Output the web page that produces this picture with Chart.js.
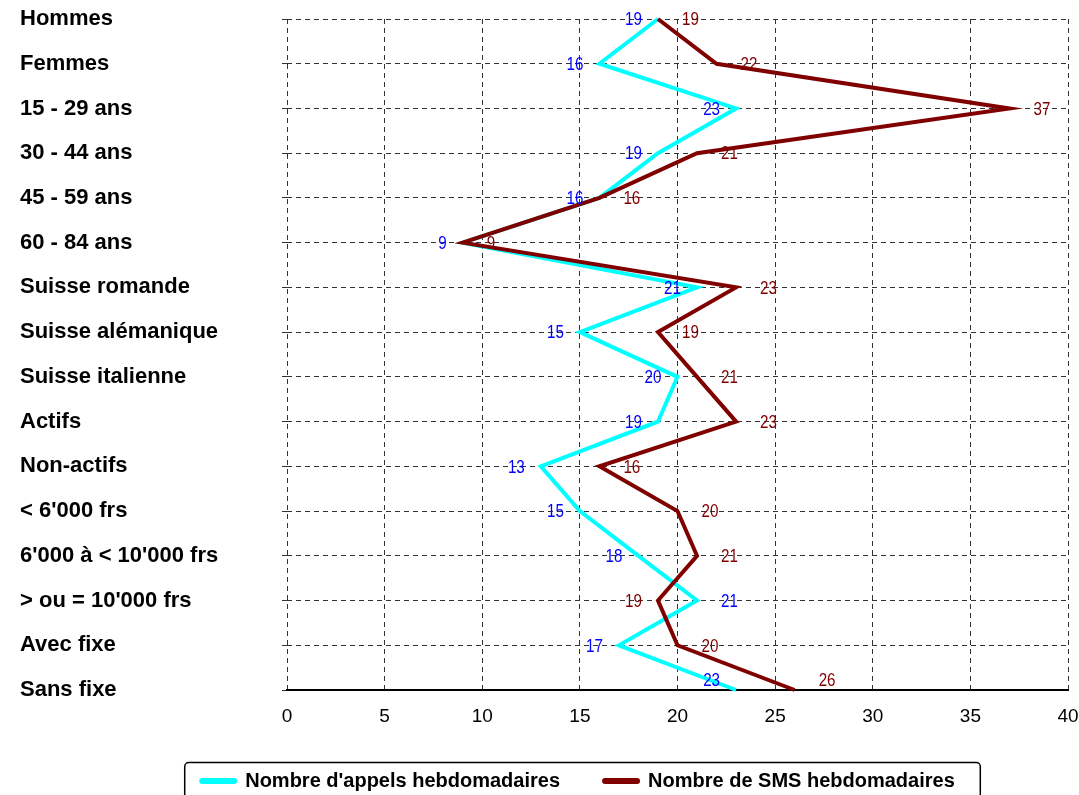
<!DOCTYPE html>
<html>
<head>
<meta charset="utf-8">
<script src="https://cdn.jsdelivr.net/npm/chart.js@4.4.0/dist/chart.umd.min.js"></script>
<style>
  html, body { margin: 0; padding: 0; background: #fff; }
  #wrap { width: 1079px; height: 795px; }
</style>
</head>
<body>
<div id="wrap"><canvas id="chart" width="1079" height="795"></canvas></div>
<script>
// ==================== DATA ====================
const categories = [
  'Hommes', 'Femmes', '15 - 29 ans', '30 - 44 ans', '45 - 59 ans', '60 - 84 ans',
  'Suisse romande', 'Suisse alémanique', 'Suisse italienne', 'Actifs', 'Non-actifs',
  "< 6'000 frs", "6'000 à < 10'000 frs", "> ou = 10'000 frs", 'Avec fixe', 'Sans fixe'
];
const appels = [19, 16, 23, 19, 16, 9, 21, 15, 20, 19, 13, 15, 18, 21, 17, 23];
const sms    = [19, 22, 37, 21, 16, 9, 23, 19, 21, 23, 16, 20, 21, 19, 20, 26];
const seriesNames = ["Nombre d'appels hebdomadaires", 'Nombre de SMS hebdomadaires'];
const xTicks = [0, 5, 10, 15, 20, 25, 30, 35, 40];

const SANS = '"Liberation Sans", Arial, sans-serif';
const labelColors = ['#0000ff', '#800000'];

// value labels next to each point (narrow look: squeezed horizontally)
const valueLabels = {
  id: 'valueLabels',
  afterDatasetsDraw(chart) {
    const ctx = chart.ctx;
    const squeeze = 0.8;
    chart.data.datasets.forEach((ds, di) => {
      const meta = chart.getDatasetMeta(di);
      meta.data.forEach((pt, i) => {
        const other = chart.data.datasets[1 - di].data[i];
        // cyan normally on the left, red on the right; swap when cyan is larger
        const goLeft = di === 0 ? !(ds.data[i] > other) : (ds.data[i] < other);
        let y = pt.y;
        if (i === ds.data.length - 1) y -= 10;
        const x = goLeft ? pt.x - 16 : pt.x + 24;
        ctx.save();
        ctx.font = '19px ' + SANS;
        ctx.textBaseline = 'middle';
        ctx.fillStyle = labelColors[di];
        ctx.textAlign = goLeft ? 'right' : 'left';
        ctx.translate(x, y);
        ctx.scale(squeeze, 1);
        ctx.fillText(String(ds.data[i]), 0, 1);
        ctx.restore();
      });
    });
  }
};

// boxed legend under the axis
const boxLegend = {
  id: 'boxLegend',
  afterDraw(chart) {
    const ctx = chart.ctx;
    ctx.save();
    ctx.font = 'bold 20px ' + SANS;
    const sw = 38, gapText = 8, gapItem = 42;
    const widths = seriesNames.map(t => ctx.measureText(t).width);
    const total = sw * 2 + gapText * 2 + widths[0] + widths[1] + gapItem;
    let x = 577 - total / 2;
    const y = 781;
    ctx.lineWidth = 1.5;
    ctx.strokeStyle = '#000';
    ctx.beginPath();
    ctx.roundRect(x - 14.5, 762.5, total + 14 + 26, 44, 4);
    ctx.stroke();
    ctx.textBaseline = 'middle';
    ctx.textAlign = 'left';
    chart.data.datasets.forEach((ds, i) => {
      ctx.strokeStyle = ds.borderColor;
      ctx.lineWidth = 6;
      ctx.lineCap = 'round';
      ctx.beginPath();
      ctx.moveTo(x + 3, y);
      ctx.lineTo(x + sw - 3, y);
      ctx.stroke();
      ctx.fillStyle = '#000';
      ctx.fillText(seriesNames[i], x + sw + gapText, y);
      x += sw + gapText + widths[i] + gapItem;
    });
    ctx.restore();
  }
};

new Chart(document.getElementById('chart'), {
  type: 'line',
  data: {
    labels: categories,
    datasets: [
      { label: seriesNames[0], data: appels, borderColor: '#00ffff', backgroundColor: '#00ffff',
        borderWidth: 4, pointRadius: 0, tension: 0, order: 1 },
      { label: seriesNames[1], data: sms, borderColor: '#800000', backgroundColor: '#800000',
        borderWidth: 4, pointRadius: 0, tension: 0, order: 0 }
    ]
  },
  options: {
    indexAxis: 'y',
    responsive: false,
    animation: false,
    layout: { autoPadding: false, padding: { left: 20, right: 11, top: 19, bottom: 0 } },
    plugins: { legend: { display: false }, tooltip: { enabled: false } },
    scales: {
      x: {
        type: 'linear', position: 'bottom', min: 0, max: 40,
        afterBuildTicks: s => { s.ticks = xTicks.map(v => ({ value: v })); },
        afterFit: s => { s.height = 795 - 690; s.paddingLeft = 0; s.paddingRight = 0; },
        ticks: { color: '#000', font: { family: SANS, size: 19 }, padding: 15 },
        grid: { color: '#333', lineWidth: 1, drawTicks: false },
        border: { display: true, color: '#000', width: 2, dash: [5, 4] }
      },
      y: {
        type: 'category', offset: false,
        afterFit: s => { s.width = 287 - 20; s.paddingTop = 0; s.paddingBottom = 0; },
        ticks: { color: '#000', font: { family: SANS, size: 22, weight: 'bold' }, crossAlign: 'far', autoSkip: false },
        grid: { color: '#333', lineWidth: 1, drawTicks: true, tickLength: 5 },
        border: { display: false, dash: [5, 4] }
      }
    }
  },
  plugins: [valueLabels, boxLegend]
});
</script>
</body>
</html>
